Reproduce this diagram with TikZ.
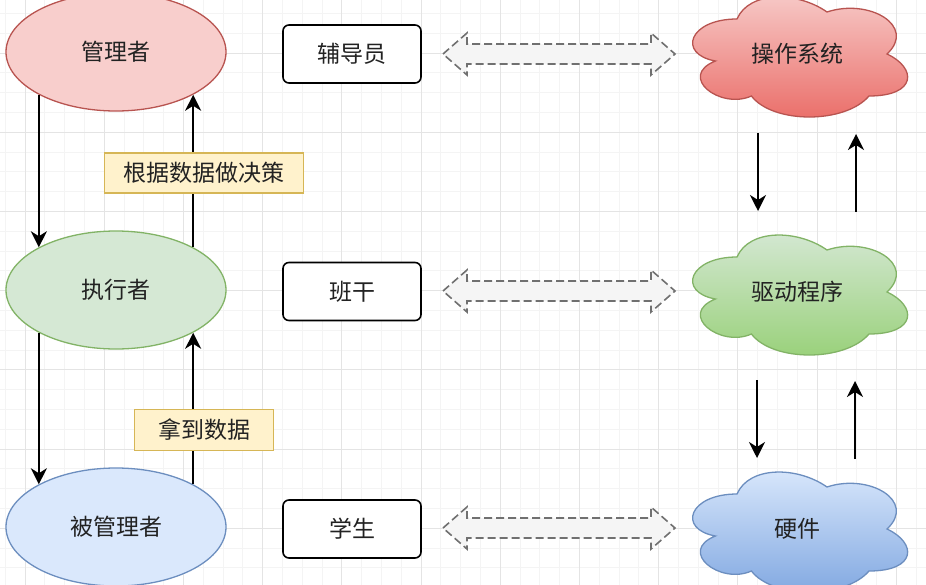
\documentclass[tikz,border=0pt]{standalone}
\usepackage{fontspec}
\setmainfont{Noto Sans CJK SC}
\usetikzlibrary{arrows.meta,shapes.geometric}
\definecolor{redFill}{HTML}{F8CECC}
\definecolor{redLine}{HTML}{B85450}
\definecolor{greenFill}{HTML}{D5E8D4}
\definecolor{greenLine}{HTML}{82B366}
\definecolor{blueFill}{HTML}{DAE8FC}
\definecolor{blueLine}{HTML}{6C8EBF}
\definecolor{yelFill}{HTML}{FFF2CC}
\definecolor{yelLine}{HTML}{D6B656}
\definecolor{osTop}{HTML}{F7CBC9}
\definecolor{osBot}{HTML}{EA6B66}
\definecolor{drvTop}{HTML}{D5E8D4}
\definecolor{drvBot}{HTML}{97D077}
\definecolor{hwTop}{HTML}{DAE8FC}
\definecolor{hwBot}{HTML}{7EA6E0}
\definecolor{minorGrid}{HTML}{F4F4F4}
\definecolor{majorGrid}{HTML}{E4E4E4}
\definecolor{txt}{HTML}{222222}
\definecolor{dashLine}{HTML}{707070}
\definecolor{dashFill}{HTML}{F5F5F5}
\begin{document}
\begin{tikzpicture}[x=1pt,y=-1pt,
  txtfont/.style={font=\fontsize{23}{27}\selectfont, text=txt},
  role/.style={ellipse, minimum width=220pt, minimum height=118pt, inner sep=0pt, line width=1.3pt, txtfont},
  box/.style={rectangle, rounded corners=6pt, draw=black, fill=white, line width=1.6pt, minimum width=138pt, minimum height=58pt, inner sep=0pt, txtfont},
  lbl/.style={rectangle, draw=yelLine, fill=yelFill, line width=1.3pt, inner sep=0pt, txtfont},
  cloudtext/.style={inner sep=0pt, txtfont},
  arr/.style={line width=1.9pt, black, -{Stealth[length=16pt,width=16pt,inset=5pt]}},
  dbl/.style={draw=dashLine, fill=dashFill, line width=1.6pt, dash pattern=on 8pt off 4pt, line join=miter},
  mingrid/.style={draw=minorGrid, line width=0.8pt},
  majgrid/.style={draw=majorGrid, line width=1pt}]
\useasboundingbox (0,0) rectangle (926,584);
\clip (0,0) rectangle (926,584);
\fill[white] (0,0) rectangle (926,584);
% grid
\foreach \k in {-1,...,46} \draw[mingrid] ({25+19.8*\k},-5) -- ({25+19.8*\k},590);
\foreach \k in {-3,...,27} \draw[mingrid] (-5,{53+19.8*\k}) -- (931,{53+19.8*\k});
\foreach \k in {0,...,11} \draw[majgrid] ({25+79.2*\k},-5) -- ({25+79.2*\k},590);
\foreach \k in {-1,...,7} \draw[majgrid] (-5,{53+79.2*\k}) -- (931,{53+79.2*\k});

% left ellipses
\node[role, draw=redLine, fill=redFill] (m) at (116,52) {管理者};
\node[role, draw=greenLine, fill=greenFill] (e) at (116,290) {执行者};
\node[role, draw=blueLine, fill=blueFill] (b) at (116,527) {被管理者};

% arrows between ellipses
\draw[arr] (m.209) -- (e.151);
\draw[arr] (e.29) -- (m.331);
\draw[arr] (e.209) -- (b.151);
\draw[arr] (b.29) -- (e.331);
\node[lbl, minimum width=199pt, minimum height=40pt] (l1) at (204,173) {根据数据做决策};
\node[lbl, minimum width=139pt, minimum height=41pt] (l2) at (204,430) {拿到数据};

% boxes
\node[box] (fdy) at (352,54) {辅导员};
\node[box] (bg) at (352,291.5) {班干};
\node[box] (xs) at (352,529) {学生};

% dashed double arrows
\foreach \yc in {54,291,528} {
  \draw[dbl] (443,\yc) -- (467,{\yc-21}) -- (467,{\yc-10}) -- (651,{\yc-10}) -- (651,{\yc-21})
    -- (675,\yc) -- (651,{\yc+21}) -- (651,{\yc+10}) -- (467,{\yc+10}) -- (467,{\yc+21}) -- cycle;
}

% clouds
\foreach \nm/\yo/\ctop/\cbot/\cdraw/\t in {os/-16/osTop/osBot/redLine/操作系统, drv/222/drvTop/drvBot/greenLine/驱动程序, hw/459/hwTop/hwBot/blueLine/硬件} {
  \begin{scope}[shift={(677,\yo)}, x=240pt, y=-140pt]
    \shade[top color=\ctop, bottom color=\cbot, draw=\cdraw, line width=1.3pt]
      (0.25,0.25) .. controls (0.05,0.25) and (0,0.5) .. (0.16,0.55)
      .. controls (0,0.66) and (0.18,0.9) .. (0.31,0.8)
      .. controls (0.4,1) and (0.7,1) .. (0.8,0.8)
      .. controls (1,0.8) and (1,0.6) .. (0.875,0.5)
      .. controls (1,0.3) and (0.8,0.1) .. (0.625,0.2)
      .. controls (0.5,0.05) and (0.3,0.05) .. (0.25,0.25) -- cycle;
    \node[cloudtext] (\nm) at (0.5,0.5) {\t};
  \end{scope}
}

% arrows between clouds
\coordinate (d1s) at (758,133); \coordinate (d1e) at (758,211);
\coordinate (u1s) at (856,212); \coordinate (u1e) at (856,134);
\coordinate (d2s) at (757,380); \coordinate (d2e) at (757,458);
\coordinate (u2s) at (855,459); \coordinate (u2e) at (855,381);
\draw[arr] (d1s) -- (d1e);
\draw[arr] (u1s) -- (u1e);
\draw[arr] (d2s) -- (d2e);
\draw[arr] (u2s) -- (u2e);
\end{tikzpicture}
\end{document}
